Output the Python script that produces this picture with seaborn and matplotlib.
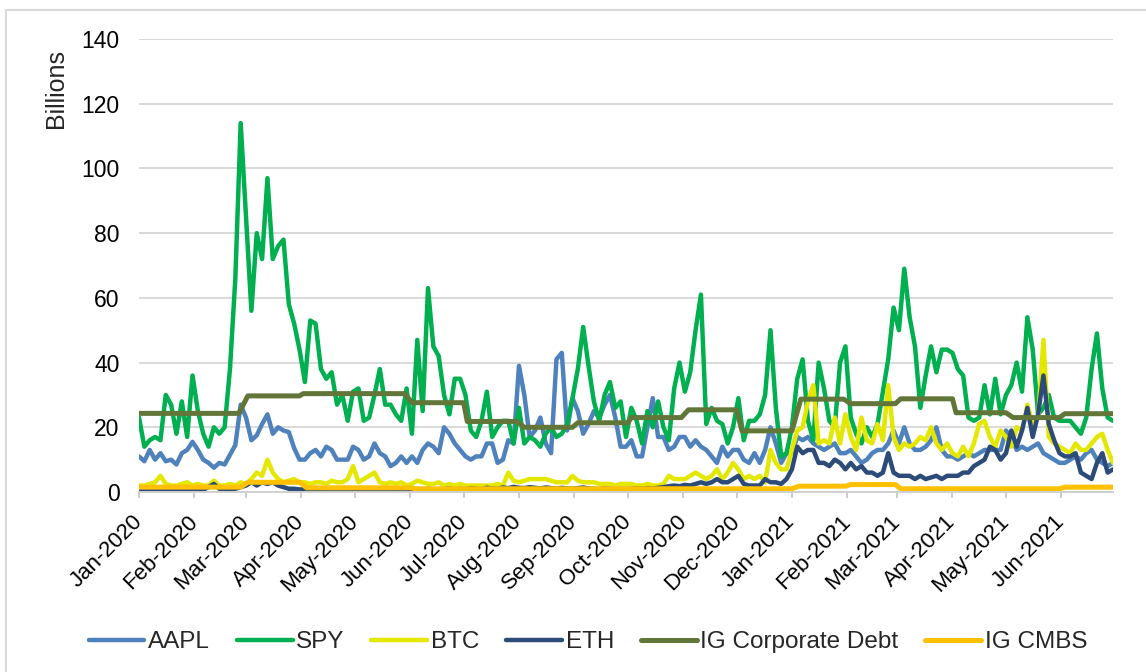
import matplotlib
matplotlib.use("Agg")
import matplotlib.pyplot as plt
import matplotlib.dates as mdates
from matplotlib.patches import Rectangle
import pandas as pd
import seaborn as sns

# readings taken every 3 days from 1 Jan 2020 (billions)
spy = [23, 14, 16, 17, 16, 30, 27, 18, 28, 17,
       36, 25, 18, 14, 20, 18, 20, 38, 66, 114,
       85, 56, 80, 72, 97, 72, 76, 78, 58, 52,
       44, 34, 53, 52, 38, 35, 37, 27, 30, 22,
       31, 32, 22, 23, 30, 38, 27, 27, 24, 22,
       32, 18, 47, 25, 63, 45, 42, 30, 24, 35,
       35, 30, 19, 17, 22, 31, 17, 20, 22, 22,
       15, 26, 15, 17, 16, 14, 18, 20, 17, 18,
       21, 29, 38, 51, 39, 28, 22, 30, 34, 26,
       28, 17, 26, 22, 15, 25, 20, 28, 20, 16,
       32, 40, 31, 37, 50, 61, 21, 26, 22, 21,
       15, 20, 29, 16, 22, 22, 24, 30, 50, 26,
       11, 12, 20, 35, 41, 22, 16, 40, 32, 22,
       20, 40, 45, 23, 18, 15, 20, 17, 21, 31,
       41, 57, 50, 69, 54, 45, 26, 36, 45, 37,
       44, 44, 43, 38, 36, 23, 22, 23, 33, 24,
       35, 24, 30, 33, 40, 31, 54, 44, 24, 26,
       30, 23, 22, 22, 22, 20, 18, 23, 38, 49,
       32, 23, 22]

aapl = [11, 9.5, 13, 10, 12, 9.5, 10, 8.5, 12, 13,
        15.5, 13, 10, 9, 7.5, 9, 8.5, 11.5, 14.5, 27,
        23, 16, 17.5, 21, 24, 18, 20, 19, 18.5, 13.5,
        10, 10, 12, 13, 11, 14, 13, 10, 10, 10,
        14, 13, 10, 11, 15, 12, 11, 8, 9, 11,
        9, 11, 9, 13, 15, 14, 12, 20, 18, 15,
        13, 11, 10, 11, 11, 15, 15, 9, 10, 16,
        15, 39, 30, 17, 19, 23, 15, 12, 41, 43,
        19, 29, 25, 18, 21, 25, 23, 27, 30, 23,
        14, 14, 16, 11, 11, 20, 29, 17, 17, 13,
        14, 17, 17, 14, 16, 14, 13, 11, 9, 14,
        11, 13, 13, 10, 9, 12, 9, 13, 20, 15,
        9, 12, 12, 17, 16, 17, 15, 14, 13, 14,
        15, 12, 12, 13, 11, 9, 10, 12, 13, 13,
        15, 19, 15, 20, 15, 13, 13, 14, 16, 20,
        13, 11, 11, 10, 11, 12, 11, 12, 13, 13,
        13, 13, 19, 17, 13, 14, 13, 14, 15, 12,
        11, 10, 9, 9, 10, 11, 10, 12, 13, 10,
        9, 8, 9]

btc = [2, 2, 2.5, 3, 5, 2.5, 2, 2, 2.5, 3,
       2, 2.5, 2, 2, 3.5, 2, 2, 2.5, 2, 3,
       2.5, 4, 6, 5, 10, 6, 4, 3, 3.5, 4,
       3, 3, 2.5, 3, 3, 2.5, 3.5, 3, 3, 4,
       8, 3, 4, 5, 6, 3, 2.5, 3, 2.5, 3,
       2, 2.5, 3.5, 3, 2.5, 2.5, 3, 2, 2.5, 2,
       2.5, 2, 2, 2, 2, 2, 2, 2.5, 2, 6,
       3.5, 3, 3.5, 4, 4, 4, 4, 3.5, 3, 3,
       3, 5, 3.5, 3, 3, 3, 2.5, 2.5, 2.5, 2,
       2.5, 2.5, 2.5, 2, 2, 2.5, 2, 2, 2.5, 5,
       4, 4, 4, 5, 6, 5, 4, 5, 7, 4,
       6, 9, 7, 4, 5, 4, 5, 3, 13, 9,
       7, 7, 13, 19, 20, 28, 33, 15, 16, 15,
       23, 15, 24, 17, 13, 23, 16, 15, 21, 16,
       33, 17, 13, 15, 14, 15, 17, 16, 20, 15,
       13, 15, 12, 11, 14, 11, 15, 21, 22, 17,
       14, 19, 17, 14, 20, 19, 27, 21, 23, 47,
       17, 15, 14, 13, 12, 15, 13, 13, 15, 17,
       18, 13, 9]

eth = [0.7, 0.7, 0.7, 0.7, 0.7, 0.7, 0.7, 0.7, 0.7, 0.7,
       0.7, 0.7, 0.7, 1.5, 2.5, 1, 1, 0.8, 1, 1.5,
       2, 3, 2, 3, 2.5, 3, 2, 1.5, 1, 1,
       0.8, 0.8, 0.6, 0.7, 0.9, 0.6, 0.5, 0.7, 0.8, 0.6,
       0.7, 0.9, 0.6, 0.5, 0.7, 0.6, 0.8, 0.7, 0.6, 0.9,
       0.7, 0.6, 0.8, 0.7, 1.0, 0.8, 0.7, 0.9, 1.1, 0.8,
       1.0, 0.9, 1.2, 1.0, 0.9, 1.3, 1.1, 1.0, 1.4, 1.2,
       1.6, 1.3, 1.2, 1.5, 1.3, 1.1, 1.4, 1.2, 1.0, 1.3,
       1.1, 1.0, 1.2, 1.4, 1.1, 1.0, 0.9, 1.1, 1.0, 0.8,
       1.0, 0.9, 1.0, 1.1, 1.0, 1.2, 1.1, 1.3, 1.5, 1.8,
       2.0, 1.8, 2.2, 2, 2.5, 3, 2.5, 3, 4, 3,
       3, 4, 5, 2.5, 2, 2, 2, 4, 3, 3,
       2.5, 4, 7, 14, 12, 13, 13, 9, 9, 8,
       10, 9, 7, 9, 7, 8, 6, 6, 5, 6,
       12, 6, 5, 5, 5, 4, 5, 4, 4.5, 5,
       4, 5, 5, 5, 6, 6, 8, 9, 10, 14,
       13, 10, 12, 19, 14, 19, 26, 17, 24, 36,
       21, 16, 12, 11, 11, 12, 6, 5, 4, 9,
       12, 6, 7]

# the two bond series change roughly once a month
corp_dates = ["2020-01-01", "2020-02-26", "2020-03-02", "2020-03-31", "2020-04-02",
              "2020-05-29", "2020-06-02", "2020-07-01", "2020-07-03", "2020-07-31",
              "2020-08-04", "2020-08-31", "2020-09-03", "2020-10-01", "2020-10-03",
              "2020-10-31", "2020-11-04", "2020-12-01", "2020-12-04", "2021-01-01",
              "2021-01-06", "2021-01-30", "2021-02-03", "2021-02-28", "2021-03-03",
              "2021-04-01", "2021-04-03", "2021-05-01", "2021-05-05", "2021-05-31",
              "2021-06-03", "2021-06-30"]
corp_vals = [24.3, 24.3, 29.7, 29.7, 30.4,
             30.4, 27.6, 27.6, 21.8, 21.8,
             20.0, 20.0, 21.4, 21.4, 23.0,
             23.0, 25.4, 25.4, 18.9, 18.9,
             28.7, 28.7, 27.3, 27.3, 28.8,
             28.8, 24.5, 24.5, 23.0, 23.0,
             24.2, 24.2]

cmbs_dates = ["2020-01-01", "2020-02-27", "2020-03-02", "2020-03-31", "2020-04-04",
              "2020-06-01", "2020-06-04", "2021-01-01", "2021-01-05", "2021-01-31",
              "2021-02-03", "2021-02-28", "2021-03-03", "2021-05-31", "2021-06-03",
              "2021-06-30"]
cmbs_vals = [1.5, 1.5, 3.0, 3.0, 1.3,
             1.3, 1.0, 1.0, 1.8, 1.8,
             2.3, 2.3, 1.0, 1.0, 1.5,
             1.5]

dates = pd.date_range("2020-01-01", periods=len(spy), freq="3D")

sns.set_style("white")
plt.rcParams["font.family"] = ["Liberation Sans", "DejaVu Sans"]

fig = plt.figure(figsize=(11.46, 6.72), dpi=100)
ax = fig.add_axes([139 / 1146, 1 - 492 / 672, 974 / 1146, 453 / 672])

series = [
    ("AAPL", dates, aapl, "#4F81BD", 3.2),
    ("SPY", dates, spy, "#00B050", 3.2),
    ("BTC", dates, btc, "#E4E800", 3.2),
    ("ETH", dates, eth, "#2C4B78", 3.2),
    ("IG Corporate Debt", pd.to_datetime(corp_dates), corp_vals, "#617638", 3.6),
    ("IG CMBS", pd.to_datetime(cmbs_dates), cmbs_vals, "#FFC000", 3.6),
]
for name, x, y, col, lw in series:
    sns.lineplot(x=x, y=y, ax=ax, color=col, linewidth=lw, label=name)

ax.set_ylim(0, 140)
ax.set_yticks(range(0, 141, 20))
ax.set_xlim(pd.Timestamp("2020-01-01"), pd.Timestamp("2021-06-30"))
ax.xaxis.set_major_locator(mdates.MonthLocator())
ax.xaxis.set_major_formatter(mdates.DateFormatter("%b-%Y"))

ax.grid(axis="y", color="#D9D9D9", linewidth=1.4)
ax.grid(axis="x", visible=False)
ax.set_axisbelow(True)
for side in ["left", "right", "top"]:
    ax.spines[side].set_visible(False)
ax.spines["bottom"].set_color("#D0D0D0")
ax.spines["bottom"].set_linewidth(1.4)

ax.tick_params(axis="y", length=0, pad=14, labelsize=16.5, labelcolor="#000000")
ax.tick_params(axis="x", length=4, width=1.3, color="#C8C8C8", pad=15,
               labelsize=16, labelcolor="#000000", bottom=True)
for lab in ax.get_xticklabels():
    lab.set_rotation(45)
    lab.set_ha("right")
    lab.set_va("center")
    lab.set_rotation_mode("anchor")

ax.set_xlabel("")
ax.set_ylabel("Billions", fontsize=18)
ax.yaxis.set_label_coords(-0.073, 0.89)

ax.legend_.remove()
handles, labels = ax.get_legend_handles_labels()
fig.legend(handles, labels, loc="center", bbox_to_anchor=(0.513, 1 - 642 / 672),
           ncol=6, frameon=False, fontsize=17.5, handlelength=2.3,
           handletextpad=0.15, columnspacing=1.1)

# thin frame round the chart, like the source export
fig.patches.append(Rectangle((6 / 1146, -0.1), 1.2, 1.1 - 10 / 672,
                             transform=fig.transFigure, fill=False,
                             edgecolor="#D9D9D9", linewidth=1.5))

fig.savefig("out.png", dpi=100)
